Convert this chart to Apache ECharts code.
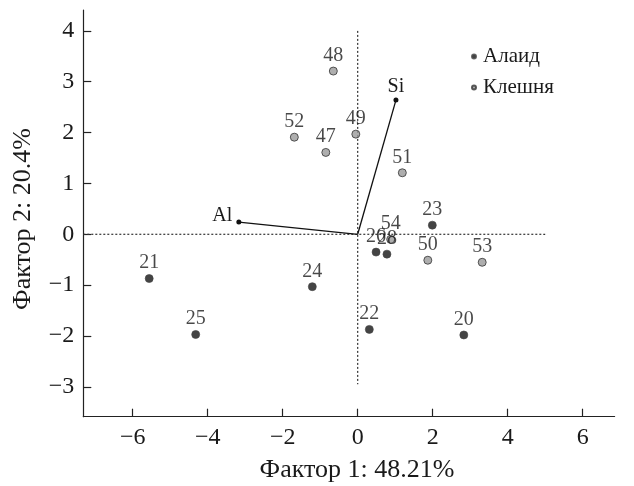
<!DOCTYPE html>
<html>
<head>
<meta charset="utf-8">
<script src="https://cdn.jsdelivr.net/npm/echarts@6/dist/echarts.min.js"></script>
<style>html,body{margin:0;padding:0;background:#fff;}#c{width:634px;height:486px;}</style>
</head>
<body>
<div id="c"></div>
<script>
// Data
const alaidLabels = ['20','21','22','23','24','25','26','28'];
const alaidX = [2.83, -5.56, 0.31, 1.99, -1.21, -4.32, 0.49, 0.78];
const alaidY = [-1.98, -0.87, -1.87, 0.18, -1.03, -1.97, -0.35, -0.39];
const kleshLabels = ['47','48','49','50','51','52','53','54'];
const kleshX = [-0.85, -0.65, -0.05, 1.87, 1.19, -1.69, 3.32, 0.88];
const kleshY = [1.61, 3.21, 1.97, -0.51, 1.21, 1.91, -0.55, -0.10];
const loadingNames = ['Al', 'Si'];
const loadingX = [-3.17, 1.02];
const loadingY = [0.24, 2.64];
const xTicks = [-6, -4, -2, 0, 2, 4, 6];
const yTicks = [-3, -2, -1, 0, 1, 2, 3, 4];
const seriesNames = ['Алаид', 'Клешня'];
const xTitle = 'Фактор 1: 48.21%';
const yTitle = 'Фактор 2: 20.4%';
const hRef = [[-7.317, 0], [5.0, 0]];
const vRef = [[0, 4.0], [0, -2.95]];

const serif = 'Liberation Serif';
const fmt = v => String(v).replace('-', '\u2212');

const mk = (xs, ys, ls) => xs.map((x, i) => ({ value: [x, ys[i]], name: ls[i] }));

const chart = echarts.init(document.getElementById('c'));
const labelStyle = { show: true, position: 'top', distance: 1, formatter: p => p.name,
  fontFamily: serif, fontSize: 20, color: '#1a1a1a' };

const loadingSeries = loadingNames.map((n, i) => ({
  type: 'line', silent: true, z: 3,
  data: [
    { value: [0, 0], symbolSize: 0, label: { show: false } },
    { value: [loadingX[i], loadingY[i]], name: n }
  ],
  symbol: 'circle', symbolSize: 5,
  itemStyle: { color: '#111' },
  lineStyle: { color: '#111', width: 1.3 },
  label: i === 0
    ? { show: true, position: 'left', distance: 4, offset: [0, -6], formatter: p => p.name, fontFamily: serif, fontSize: 20, color: '#1a1a1a' }
    : { show: true, position: 'top', distance: 1, formatter: p => p.name, fontFamily: serif, fontSize: 20, color: '#1a1a1a' }
}));

chart.setOption({
  animation: false,
  grid: { left: 83.3, right: 19.4, top: 10, bottom: 69.3, containLabel: false },
  xAxis: {
    type: 'value', min: -7.317, max: 6.851,
    splitLine: { show: false },
    axisLine: { onZero: false, lineStyle: { color: '#222', width: 1.2 } },
    axisTick: { inside: true, length: 8, customValues: xTicks, lineStyle: { color: '#222', width: 1.2 } },
    axisLabel: { customValues: xTicks, formatter: fmt, margin: 9, fontFamily: serif, fontSize: 24, color: '#1a1a1a' }
  },
  yAxis: {
    type: 'value', min: -3.587, max: 4.411,
    splitLine: { show: false },
    axisLine: { show: true, onZero: false, lineStyle: { color: '#222', width: 1.2 } },
    axisTick: { show: true, inside: true, length: 8, customValues: yTicks, lineStyle: { color: '#222', width: 1.2 } },
    axisLabel: { customValues: yTicks, formatter: fmt, margin: 9, fontFamily: serif, fontSize: 24, color: '#1a1a1a' }
  },
  legend: {
    data: seriesNames, orient: 'vertical', left: 466, top: 41,
    icon: 'circle', itemWidth: 8, itemHeight: 4, itemGap: 10,
    textStyle: { fontFamily: serif, fontSize: 21, color: '#1a1a1a', lineHeight: 20 }
  },
  graphic: [
    { type: 'text', x: 357, y: 470, style: { text: xTitle, textAlign: 'center', textVerticalAlign: 'middle', font: '26px ' + serif, fill: '#1a1a1a' } },
    { type: 'text', x: 23, y: 219, rotation: Math.PI / 2, style: { text: yTitle, textAlign: 'center', textVerticalAlign: 'middle', font: '26px ' + serif, fill: '#1a1a1a' } }
  ],
  series: [
    { type: 'line', silent: true, data: hRef, symbol: 'none', z: 1,
      lineStyle: { color: '#333', width: 1.2, type: [2, 2] } },
    { type: 'line', silent: true, data: vRef, symbol: 'none', z: 1,
      lineStyle: { color: '#333', width: 1.2, type: [2, 2] } },
    ...loadingSeries,
    { name: seriesNames[0], type: 'scatter', z: 5, data: mk(alaidX, alaidY, alaidLabels),
      symbolSize: 8, itemStyle: { color: '#151515', borderColor: '#444', borderWidth: 0.8 }, label: labelStyle },
    { name: seriesNames[1], type: 'scatter', z: 5, data: mk(kleshX, kleshY, kleshLabels),
      symbolSize: 8, itemStyle: { color: '#9a9a9a', borderColor: '#333', borderWidth: 1 }, label: labelStyle }
  ]
});
</script>
</body>
</html>
